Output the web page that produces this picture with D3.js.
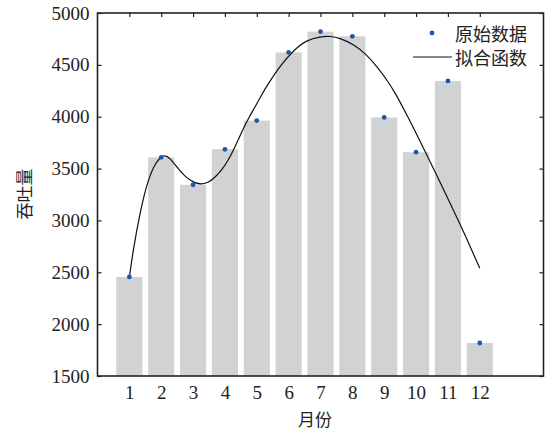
<!DOCTYPE html>
<html>
<head>
<meta charset="utf-8">
<script src="https://cdn.jsdelivr.net/npm/d3@7"></script>
<style>
  body { margin: 0; background: #fff; }
  .num text { font-family: "Liberation Serif", serif; font-size: 19px; fill: #222; }
  .cjk { font-family: "Noto Sans CJK SC", sans-serif; font-size: 17px; fill: #222; }
</style>
</head>
<body>
<svg id="chart" width="549" height="432"></svg>
<script>
// data
var months = [1, 2, 3, 4, 5, 6, 7, 8, 9, 10, 11, 12];
var values = [2455, 3608, 3344, 3686, 3963, 4620, 4820, 4775, 3993, 3658, 4345, 1818];
var fitX = [1, 1.12, 1.33, 1.54, 1.75, 1.96, 2.12, 2.28, 2.48, 2.74, 3.06, 3.27, 3.48, 3.69, 3.9,
  4.11, 4.32, 4.53, 4.74, 4.95, 5.16, 5.31, 5.73, 6.15, 6.57, 6.99, 7.31, 7.62, 8.04, 8.46, 8.77,
  9.09, 9.35, 9.66, 9.98, 10.29, 10.6, 10.92, 11.23, 11.55, 11.86, 12];
var fitY = [2452, 2715, 3069, 3342, 3518, 3609, 3631, 3599, 3518, 3422, 3358, 3348, 3364, 3416, 3486,
  3583, 3711, 3856, 3985, 4097, 4215, 4295, 4490, 4640, 4740, 4771, 4778, 4756, 4698, 4595, 4482,
  4354, 4226, 4048, 3855, 3660, 3465, 3262, 3062, 2853, 2635, 2540];
var yTicks = [1500, 2000, 2500, 3000, 3500, 4000, 4500, 5000];

var svg = d3.select('#chart');
var width = 549, height = 432;
var margins = { top: 13, bottom: 56, left: 97.5, right: 5.5 };

var x = d3.scaleLinear()
  .domain([0, 14])
  .range([margins.left, width - margins.right]);
var y = d3.scaleLinear()
  .domain([1500, 5000])
  .range([height - margins.bottom, margins.top]);

// axes (ticks point inward)
svg.append('g')
  .attr('class', 'num')
  .attr('transform', 'translate(0,' + (height - margins.bottom) + ')')
  .call(d3.axisBottom(x).tickValues(months).tickFormat(d3.format('d'))
    .tickSizeInner(-4).tickSizeOuter(0).tickPadding(10));
svg.append('g')
  .attr('class', 'num')
  .attr('transform', 'translate(' + margins.left + ',0)')
  .call(d3.axisLeft(y).tickValues(yTicks).tickFormat(d3.format('d'))
    .tickSizeInner(-4).tickSizeOuter(0).tickPadding(8));
svg.append('g')
  .attr('transform', 'translate(0,' + margins.top + ')')
  .call(d3.axisTop(x).tickValues(months).tickSizeInner(-4).tickSizeOuter(0).tickFormat(''));
svg.append('g')
  .attr('transform', 'translate(' + (width - margins.right) + ',0)')
  .call(d3.axisRight(y).tickValues(yTicks).tickSizeInner(-4).tickSizeOuter(0).tickFormat(''));
svg.selectAll('.domain').remove();
svg.selectAll('.tick line').attr('stroke', '#222').attr('stroke-width', 1.2);

// bars
var bw = x(0.82) - x(0);
svg.selectAll('rect.bar')
  .data(months)
  .enter()
  .append('rect')
  .attr('class', 'bar')
  .attr('x', function(d) { return x(d) - bw / 2; })
  .attr('y', function(d, i) { return y(values[i]); })
  .attr('width', bw)
  .attr('height', function(d, i) { return y(1500) - y(values[i]); })
  .style('fill', '#d1d2d4');

// frame
svg.append('rect')
  .attr('x', margins.left)
  .attr('y', margins.top)
  .attr('width', width - margins.left - margins.right)
  .attr('height', height - margins.top - margins.bottom)
  .attr('fill', 'none')
  .attr('stroke', '#222')
  .attr('stroke-width', 1.6);

// fitted curve
var line = d3.line()
  .x(function(d) { return x(d); })
  .y(function(d, i) { return y(fitY[i]); })
  .curve(d3.curveBasis);
svg.append('path')
  .datum(fitX)
  .attr('d', line)
  .attr('fill', 'none')
  .attr('stroke', '#111')
  .attr('stroke-width', 1.2);

// original points
svg.selectAll('circle.pt')
  .data(months)
  .enter()
  .append('circle')
  .attr('class', 'pt')
  .attr('cx', function(d) { return x(d); })
  .attr('cy', function(d, i) { return y(values[i]); })
  .attr('r', 2.4)
  .style('fill', '#1f56a8');

// legend
svg.append('circle').attr('cx', 432).attr('cy', 33).attr('r', 2.4).style('fill', '#1f56a8');
svg.append('text').attr('class', 'cjk').attr('x', 455).attr('y', 33)
  .attr('dominant-baseline', 'central').style('font-size', '18px').text('原始数据');
svg.append('line').attr('x1', 413).attr('x2', 452).attr('y1', 57).attr('y2', 57)
  .attr('stroke', '#111').attr('stroke-width', 1.2);
svg.append('text').attr('class', 'cjk').attr('x', 455).attr('y', 57)
  .attr('dominant-baseline', 'central').style('font-size', '18px').text('拟合函数');

// axis titles
svg.append('text').attr('class', 'cjk')
  .attr('x', 315).attr('y', 418)
  .attr('text-anchor', 'middle').attr('dominant-baseline', 'central')
  .text('月份');
svg.append('text').attr('class', 'cjk')
  .attr('transform', 'translate(23,194) rotate(-90)')
  .attr('text-anchor', 'middle').attr('dominant-baseline', 'central')
  .text('吞吐量');
</script>
</body>
</html>
